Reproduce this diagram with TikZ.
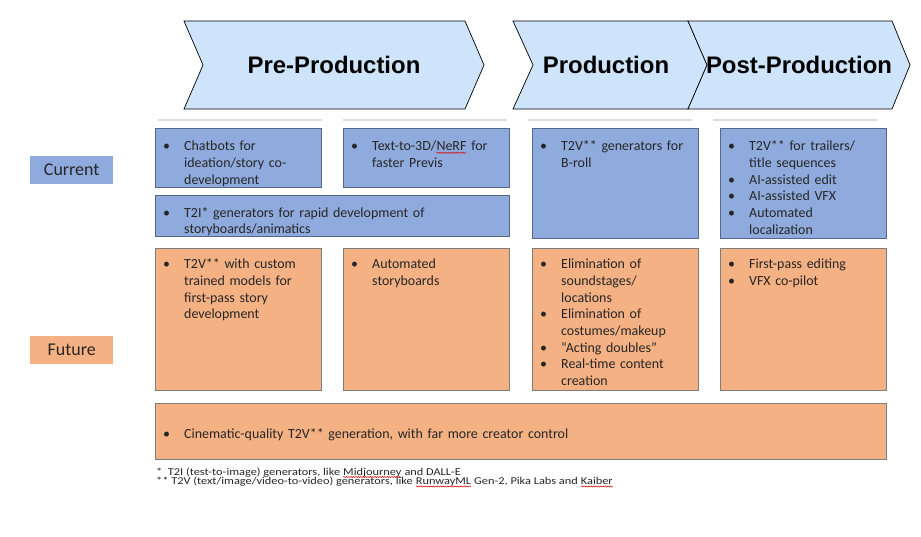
\documentclass[tikz,border=0pt]{standalone}
\usepackage{fontspec}
\setmainfont{Carlito}
\newfontfamily\headfont{Liberation Sans}
\newfontfamily\footfont{Carlito}[FakeStretch=1.18]
\usetikzlibrary{decorations.pathmorphing}
\definecolor{boxblue}{RGB}{143,170,220}
\definecolor{boxblueline}{RGB}{84,104,140}
\definecolor{boxorange}{RGB}{244,177,131}
\definecolor{boxorangeline}{RGB}{125,125,125}
\definecolor{chevfill}{RGB}{205,228,250}
\definecolor{sepgrey}{RGB}{217,220,224}
\definecolor{txt}{RGB}{38,38,38}
\newcommand\itm[1]{\par\noindent\hangindent=21bp\hangafter=1\makebox[21bp][l]{\textbullet}\rule{0pt}{11bp}#1\par}
\newcommand\spellerr[1]{\begin{tikzpicture}[baseline=(sw.base)]\node[inner sep=0pt,outer sep=0pt,text width={},anchor=base](sw){#1};\draw[red!85!black,line width=0.5bp,decorate,decoration={snake,amplitude=0.55bp,segment length=2.4bp}]([yshift=-2bp]sw.base west)--([yshift=-2bp]sw.base east);\end{tikzpicture}}
\begin{document}
\begin{tikzpicture}[x=1bp,y=-1bp,
  chev/.style={draw=black,line width=0.7bp,fill=chevfill},
  chevtext/.style={font=\headfont\bfseries\fontsize{24}{28}\selectfont,text=black,inner sep=0pt},
  sepline/.style={draw=sepgrey,line width=1.2bp},
  bluebox/.style={draw=boxblueline,line width=1bp,fill=boxblue,rectangle,anchor=north west,inner sep=0pt},
  orangebox/.style={draw=boxorangeline,line width=1bp,fill=boxorange,rectangle,anchor=north west,inner sep=0pt},
  itemtext/.style={anchor=north west,inner sep=0pt,text width=175bp,text=txt,font=\fontsize{14}{16.7}\selectfont},
  rowlabel/.style={rectangle,anchor=north west,inner sep=0pt,minimum width=83bp,minimum height=28bp,text=txt,font=\fontsize{18}{20}\selectfont},
  foot/.style={anchor=base west,inner sep=0pt,text=txt,font=\footfont\fontsize{10.5}{11}\selectfont}
]
\useasboundingbox (0,0) rectangle (921,537);
\fill[white] (0,0) rectangle (921,537);

% chevrons
\draw[chev] (184,21) -- (465,21) -- (484,65) -- (465,109) -- (184,109) -- (203,65) -- cycle;
\draw[chev] (513,21) -- (688,21) -- (707,65) -- (688,109) -- (513,109) -- (533,65) -- cycle;
\draw[chev] (688,21) -- (892,21) -- (910,65) -- (892,109) -- (688,109) -- (707,65) -- cycle;
\node[chevtext] (hpre) at (334,65) {Pre-Production};
\node[chevtext] (hprod) at (606,65) {Production};
\node[chevtext] (hpost) at (799,65) {Post-Production};

% separator lines
\draw[sepline] (158,120) -- (322,120);
\draw[sepline] (343,120) -- (507,120);
\draw[sepline] (528,120) -- (692,120);
\draw[sepline] (713,120) -- (877,120);

% row labels
\node[rowlabel,fill=boxblue] (lcur) at (30,156) {Current};
\node[rowlabel,fill=boxorange] (lfut) at (30,336) {Future};

% current boxes
\node[bluebox,minimum width=166bp,minimum height=59bp] (A) at (155,128) {};
\node[bluebox,minimum width=166bp,minimum height=59bp] (B) at (343,128) {};
\node[bluebox,minimum width=354bp,minimum height=41bp] (C) at (155,195) {};
\node[bluebox,minimum width=166bp,minimum height=110bp] (D) at (532,128) {};
\node[bluebox,minimum width=166bp,minimum height=110bp] (E) at (720,128) {};

% future boxes
\node[orangebox,minimum width=166bp,minimum height=142bp] (F) at (155,248) {};
\node[orangebox,minimum width=166bp,minimum height=142bp] (G) at (343,248) {};
\node[orangebox,minimum width=166bp,minimum height=142bp] (H) at (532,248) {};
\node[orangebox,minimum width=166bp,minimum height=142bp] (I) at (720,248) {};
\node[orangebox,minimum width=731bp,minimum height=56bp] (J) at (155,403) {};

% texts
\node[itemtext] (tA) at ([xshift=8bp,yshift=-6bp]A.north west) {\itm{Chatbots for\newline ideation/story co-\newline development}};
\node[itemtext] (tB) at ([xshift=8bp,yshift=-6bp]B.north west) {\itm{Text-to-3D/\spellerr{NeRF} for\newline faster Previs}};
\node[itemtext,text width=340bp] (tC) at ([xshift=8bp,yshift=-5.5bp]C.north west) {\itm{T2I* generators for rapid development of\newline storyboards/animatics}};
\node[itemtext] (tD) at ([xshift=8bp,yshift=-6bp]D.north west) {\itm{T2V** generators for\newline B-roll}};
\node[itemtext] (tE) at ([xshift=8bp,yshift=-6bp]E.north west) {\itm{T2V** for trailers/\newline title sequences}\itm{AI-assisted edit}\itm{AI-assisted VFX}\itm{Automated\newline localization}};

\node[itemtext] (tF) at ([xshift=8bp,yshift=-4bp]F.north west) {\itm{T2V** with custom\newline trained models for\newline first-pass story\newline development}};
\node[itemtext] (tG) at ([xshift=8bp,yshift=-4bp]G.north west) {\itm{Automated\newline storyboards}};
\node[itemtext] (tH) at ([xshift=8bp,yshift=-4bp]H.north west) {\itm{Elimination of\newline soundstages/\newline locations}\itm{Elimination of\newline costumes/makeup}\itm{“Acting doubles”}\itm{Real-time content\newline creation}};
\node[itemtext] (tI) at ([xshift=8bp,yshift=-4bp]I.north west) {\itm{First-pass editing}\itm{VFX co-pilot}};
\node[itemtext,anchor=west,text width=700bp] (tJ) at ([xshift=8bp]J.west) {\itm{Cinematic-quality T2V** generation, with far more creator control}};

% footnotes
\node[foot] (fn1) at (156,475) {*\ \ T2I (test-to-image) generators, like \spellerr{Midjourney} and DALL-E};
\node[foot] (fn2) at (156,484.5) {**\ T2V (text/image/video-to-video) generators, like \spellerr{RunwayML} Gen-2, Pika Labs and \spellerr{Kaiber}};
\end{tikzpicture}
\end{document}
